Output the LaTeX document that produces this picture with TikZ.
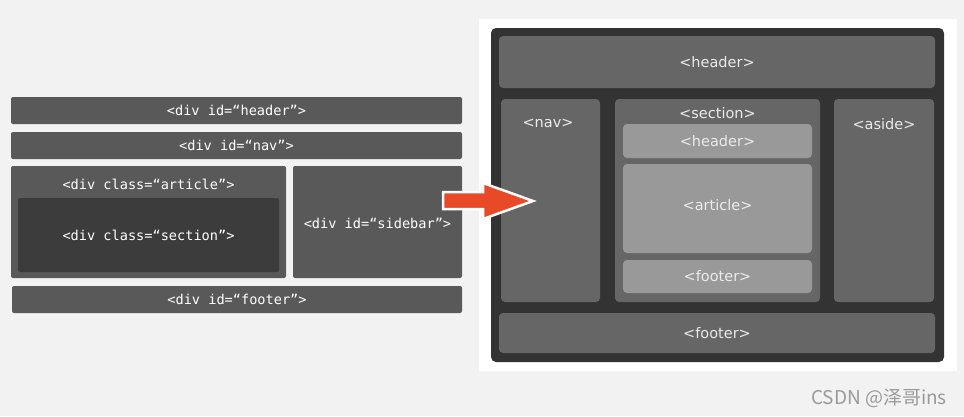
\documentclass[tikz,border=0pt]{standalone}
\usepackage{fontspec}
\newfontfamily\monof{DejaVu Sans Mono}
\newfontfamily\verdf{DejaVu Sans}
\newfontfamily\cjkf{Noto Sans CJK SC}
\definecolor{bgc}{HTML}{F2F2F2}
\definecolor{lbox}{HTML}{595959}
\definecolor{lsec}{HTML}{3C3C3C}
\definecolor{frame}{HTML}{333333}
\definecolor{rbox}{HTML}{666666}
\definecolor{ibox}{HTML}{999999}
\definecolor{rtext}{HTML}{EBEBEB}
\definecolor{arrowc}{HTML}{E84A27}
\definecolor{wm}{HTML}{9A9A9A}
\tikzset{
  lb/.style={rectangle, inner sep=0pt, fill=lbox, rounded corners=2pt, draw=none},
  lsecbox/.style={lb, fill=lsec},
  ltxt/.style={inner sep=0pt, text=white, font=\monof\fontsize{13.6}{15}\selectfont},
  rb/.style={rectangle, inner sep=0pt, fill=rbox, rounded corners=4pt, draw=none},
  ib/.style={rb, fill=ibox},
  rtxt/.style={inner sep=0pt, text=rtext, font=\verdf\fontsize{14.5}{16}\selectfont},
}
\begin{document}
\begin{tikzpicture}[x=1pt,y=-1pt]
\fill[bgc] (0,0) rectangle (964,416);
\useasboundingbox (0,0) rectangle (964,416);

% left layout
\node[lb, minimum width=451pt, minimum height=27pt] (lheader) at (236.5,110.5) {};
\node[lb, minimum width=451pt, minimum height=27pt] (lnav) at (236.5,145.5) {};
\node[lb, minimum width=275pt, minimum height=112pt] (larticle) at (148.5,222) {};
\node[lsecbox, minimum width=261pt, minimum height=74pt] (lsection) at (148.5,235) {};
\node[lb, minimum width=169pt, minimum height=112pt] (lsidebar) at (377.5,222) {};
\node[lb, minimum width=450pt, minimum height=27pt] (lfooter) at (237,299.5) {};

\node[ltxt] (tlheader) at (lheader.center) {<div id=“header”>};
\node[ltxt] (tlnav) at (lnav.center) {<div id=“nav”>};
\node[ltxt] (tlarticle) at (148.5,184) {<div class=“article”>};
\node[ltxt] (tlsection) at (lsection.center) {<div class=“section”>};
\node[ltxt] (tlsidebar) at (377.5,223) {<div id=“sidebar”>};
\node[ltxt] (tlfooter) at (lfooter.center) {<div id=“footer”>};

% right layout
\fill[white] (479,19) rectangle (957,371);
\node[rectangle, inner sep=0pt, fill=frame, rounded corners=5pt, minimum width=453pt, minimum height=334pt] (rframe) at (717.5,195) {};
\node[rb, minimum width=436pt, minimum height=52pt] (rheader) at (717,62) {};
\node[rb, minimum width=99pt, minimum height=203pt] (rnav) at (550.5,200.5) {};
\node[rb, minimum width=205pt, minimum height=203pt] (rsection) at (717.5,200.5) {};
\node[rb, minimum width=100pt, minimum height=203pt] (raside) at (884,200.5) {};
\node[ib, minimum width=189pt, minimum height=34pt] (sheader) at (717.5,141) {};
\node[ib, minimum width=189pt, minimum height=89pt] (sarticle) at (717.5,208.5) {};
\node[ib, minimum width=189pt, minimum height=33pt] (sfooter) at (717.5,276.5) {};
\node[rb, minimum width=436pt, minimum height=40pt] (rfooter) at (717,333) {};

\node[rtxt] (trheader) at (rheader.center) {<header>};
\node[rtxt] (trnav) at (548,123) {<nav>};
\node[rtxt] (trsection) at (717.5,113) {<section>};
\node[rtxt] (traside) at (884,124) {<aside>};
\node[rtxt] (tsheader) at (sheader.center) {<header>};
\node[rtxt] (tsarticle) at (717.5,205) {<article>};
\node[rtxt] (tsfooter) at (sfooter.center) {<footer>};
\node[rtxt] (trfooter) at (rfooter.center) {<footer>};

% big arrow
\draw[fill=arrowc, draw=white, line width=2.5pt, line join=miter]
  (443,192) -- (483,192) -- (483,183) -- (533,201) -- (483,219) -- (483,209) -- (443,209) -- cycle;

% watermark
\node[inner sep=0pt, text=wm, font=\cjkf\fontsize{19}{21}\selectfont] (wmark) at (879,398) {CSDN @泽哥ins};
\end{tikzpicture}
\end{document}
